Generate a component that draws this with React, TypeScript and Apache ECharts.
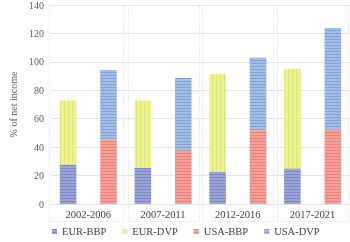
import React, { useEffect, useRef } from 'react';
import * as echarts from 'echarts';

const categories = ['2002-2006', '2007-2011', '2012-2016', '2017-2021'];
const eurBBP = [27.8, 25.4, 22.6, 25.0];
const eurDVP = [45.0, 47.4, 68.9, 70.2];
const usaBBP = [45.3, 37.8, 51.8, 52.5];
const usaDVP = [49.0, 50.9, 51.1, 71.4];
const seriesNames = ['EUR-BBP', 'EUR-DVP', 'USA-BBP', 'USA-DVP'];
const yMin = 0;
const yMax = 140;
const yStep = 20;

const FONT = '"Liberation Serif", "Times New Roman", serif';

const hStripe = (color: string) => ({
  symbol: 'rect',
  symbolSize: 1,
  dashArrayX: [1, 0],
  dashArrayY: [1, 2],
  rotation: 0,
  color,
});
const vStripe = (color: string) => ({
  symbol: 'rect',
  symbolSize: 1,
  dashArrayX: [1, 3],
  dashArrayY: [1, 0],
  rotation: 0,
  color,
});

export default function App() {
  const ref = useRef<HTMLDivElement>(null);
  useEffect(() => {
    if (!ref.current) return;
    const chart = echarts.init(ref.current, null, { renderer: 'svg' });
    const barWidth = 16.5;
    const mk = (name: string, data: number[], stack: string, color: string, decal: any) => ({
      name,
      type: 'bar',
      stack,
      data,
      barWidth,
      barGap: '145%',
      itemStyle: { color, decal },
      emphasis: { disabled: true },
    });
    chart.setOption({
      animation: false,
      textStyle: { fontFamily: FONT },
      grid: { left: 26.6, right: 0, top: 4, bottom: 38, containLabel: false },
      legend: {
        bottom: 0,
        left: 47,
        itemWidth: 5,
        itemHeight: 5,
        itemGap: 16,
        icon: 'rect',
        textStyle: { fontFamily: FONT, fontSize: 10.5, color: '#404040' },
        data: seriesNames,
      },
      xAxis: {
        type: 'category',
        data: categories,
        axisLine: { show: false },
        axisTick: { show: false },
        axisLabel: { fontFamily: FONT, fontSize: 10.5, color: '#404040', margin: 5 },
      },
      yAxis: {
        type: 'value',
        min: yMin,
        max: yMax,
        interval: yStep,
        name: '% of net income',
        nameLocation: 'middle',
        nameGap: 15,
        nameTextStyle: { fontFamily: FONT, fontSize: 10, color: '#595959' },
        axisLabel: { fontFamily: FONT, fontSize: 10, color: '#595959', margin: 7 },
        axisLine: { show: false },
        axisTick: { show: false },
        splitLine: { lineStyle: { color: '#e4e4e4', width: 1 } },
      },
      series: [
        mk(seriesNames[0], eurBBP, 'eur', '#9aa5d6', hStripe('rgba(95,110,180,0.55)')),
        mk(seriesNames[1], eurDVP, 'eur', '#eef096', vStripe('rgba(215,220,95,0.6)')),
        mk(seriesNames[2], usaBBP, 'usa', '#f3a098', hStripe('rgba(225,105,95,0.55)')),
        mk(seriesNames[3], usaDVP, 'usa', '#a3bde5', hStripe('rgba(100,140,205,0.55)')),
      ],
    });

    const c0 = chart.convertToPixel({ xAxisIndex: 0 }, categories[0]) as number;
    const c1 = chart.convertToPixel({ xAxisIndex: 0 }, categories[1]) as number;
    const half = (c1 - c0) / 2;
    const top = chart.convertToPixel({ yAxisIndex: 0 }, yMax) as number;
    const zero = chart.convertToPixel({ yAxisIndex: 0 }, yMin) as number;
    const panels = categories.map((cat, i) => {
      const c = chart.convertToPixel({ xAxisIndex: 0 }, cat) as number;
      const l = i === 0 ? c - half - 1.5 : c - half + 2;
      const r = i === categories.length - 1 ? c + half - 2 : c + half - 2;
      return {
        type: 'rect',
        silent: true,
        z: -1,
        shape: { x: Math.round(l) + 0.5, y: Math.round(top) + 0.5, width: Math.round(r - l), height: Math.round(zero - top + 17) },
        style: { fill: 'none', stroke: '#d4d4d4', lineWidth: 1, lineDash: [1, 2] },
      };
    });
    chart.setOption({ graphic: panels });

    return () => chart.dispose();
  }, []);
  return <div ref={ref} style={{ position: 'fixed', left: 0, top: 0, width: 350, height: 242 }} />;
}
